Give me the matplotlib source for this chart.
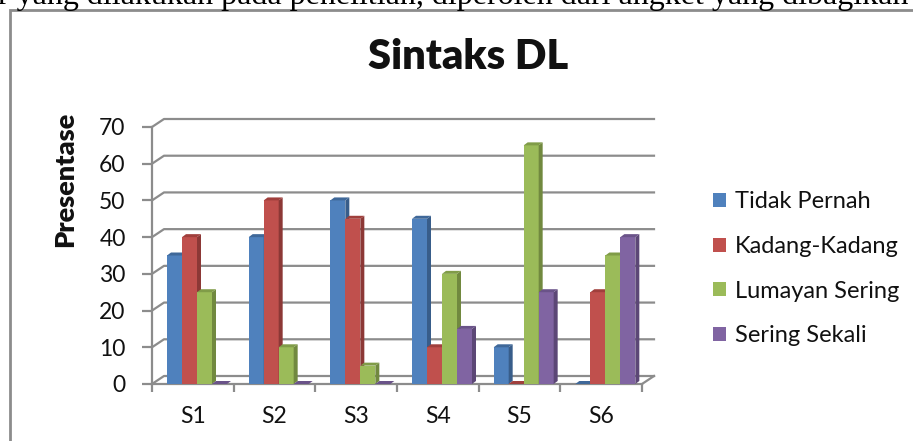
import matplotlib.pyplot as plt
from matplotlib.patches import Polygon, Rectangle, Patch
import numpy as np

categories = ['S1', 'S2', 'S3', 'S4', 'S5', 'S6']
series_names = ['Tidak Pernah', 'Kadang-Kadang', 'Lumayan Sering', 'Sering Sekali']
tidak_pernah = [35, 40, 50, 45, 10, 0]
kadang_kadang = [40, 50, 45, 10, 0, 25]
lumayan_sering = [25, 10, 5, 30, 65, 35]
sering_sekali = [0, 0, 0, 15, 25, 40]
y_ticks = [0, 10, 20, 30, 40, 50, 60, 70]

front_col = ['#4F81BD', '#C0504D', '#9BBB59', '#8064A2']
side_col = ['#385D8A', '#8C3836', '#71893F', '#5C4776']
top_col = ['#3F6899', '#A03F3C', '#809C48', '#6A5389']
grid_col = '#8C8C8C'

W, H = 913, 441
plt.rcParams['font.family'] = ['Lato', 'DejaVu Sans']
fig = plt.figure(figsize=(W / 100, H / 100), dpi=100)

# front plane of the 3d box: x 152..642 px, y 127..384 px
ax = fig.add_axes([152 / W, 1 - 384 / H, 490 / W, 257 / H])
ax.set_xlim(0, len(categories))
ax.set_ylim(0, 70)
ax.patch.set_visible(False)

ux = len(categories) / 490  # data units per pixel
uy = 70 / 257
wall_dx, wall_dy = 12 * ux, 8 * uy
bar_dx, bar_dy = 4 * ux, 3 * uy
bw = 15 * ux

# back wall + side wall gridlines
for v in y_ticks:
    ax.plot([0, wall_dx, len(categories) + wall_dx], [v, v + wall_dy, v + wall_dy],
            color=grid_col, lw=1.6, clip_on=False, zorder=1)
ax.plot([len(categories), len(categories) + wall_dx], [0, wall_dy],
        color=grid_col, lw=1.6, clip_on=False, zorder=1)

all_series = [tidak_pernah, kadang_kadang, lumayan_sering, sering_sekali]
for k, vals in enumerate(all_series):
    for i, v in enumerate(vals):
        x0 = i + (k + 1) * bw
        x1 = x0 + bw
        ax.add_patch(Polygon([(x0, 0), (x1, 0), (x1, v), (x0, v)],
                             facecolor=front_col[k], edgecolor='none', zorder=3 + k, clip_on=False))
        ax.add_patch(Polygon([(x1, 0), (x1 + bar_dx, bar_dy), (x1 + bar_dx, v + bar_dy), (x1, v)],
                             facecolor=side_col[k], edgecolor='none', zorder=3 + k, clip_on=False))
        ax.add_patch(Polygon([(x0, v), (x1, v), (x1 + bar_dx, v + bar_dy), (x0 + bar_dx, v + bar_dy)],
                             facecolor=top_col[k], edgecolor='none', zorder=3 + k, clip_on=False))

for s in ['top', 'right']:
    ax.spines[s].set_visible(False)
for s in ['left', 'bottom']:
    ax.spines[s].set_color(grid_col)
    ax.spines[s].set_linewidth(1.6)
    ax.spines[s].set_zorder(2)

ax.set_yticks(y_ticks)
ax.tick_params(axis='y', length=7, width=1.6, color=grid_col, pad=12, labelsize=16.5, labelcolor='#111111')
ax.set_xticks(range(len(categories) + 1))
ax.set_xticklabels([])
ax.tick_params(axis='x', which='major', length=6, width=1.6, color=grid_col)
ax.set_xticks(np.arange(len(categories)) + 0.5, minor=True)
ax.set_xticklabels(categories, minor=True)
ax.tick_params(axis='x', which='minor', length=0, pad=16, labelsize=16.5, labelcolor='#111111')

fig.text(468 / W, 1 - 57 / H, 'Sintaks DL', ha='center', va='center',
         fontsize=30, fontweight='heavy', color='#111111')
fig.text(65 / W, 1 - 179 / H, 'Presentase', ha='center', va='center', rotation=90,
         fontsize=19.5, fontweight='heavy', color='#111111')

handles = [Patch(facecolor=c, edgecolor='none') for c in front_col]
fig.legend(handles, series_names, loc='upper left', bbox_to_anchor=(704 / W, 1 - 182 / H),
           frameon=False, fontsize=17, handlelength=0.55, handleheight=0.55,
           handletextpad=0.35, labelspacing=1.0, borderaxespad=0, labelcolor='#111111')

# chart border and the cut-off document line above it
fig.add_artist(Rectangle((10 / W, -0.1), 1.0, 1.1 - 10 / H, transform=fig.transFigure,
                         fill=False, edgecolor=grid_col, lw=2))
fig.text(-2 / W, 1 - 4 / H, 'r yang dilakukan pada penelitian, diperoleh dari angket yang dibagikan',
         family='Liberation Serif', fontsize=23, va='baseline', color='black')

fig.savefig('out.png', dpi=100)
